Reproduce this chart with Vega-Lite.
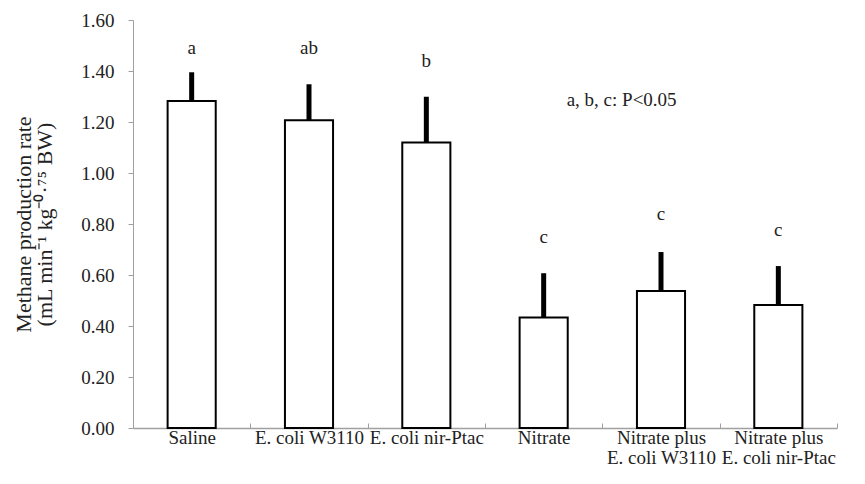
{
  "$schema": "https://vega.github.io/schema/vega-lite/v6.json",
  "width": 704,
  "height": 408,
  "autosize": {"type": "none"},
  "padding": {"left": 133, "top": 20, "right": 28, "bottom": 56},
  "background": "white",
  "config": {
    "view": {"stroke": null},
    "font": "Liberation Serif",
    "axis": {
      "labelFont": "Liberation Serif",
      "titleFont": "Liberation Serif",
      "labelColor": "#222222",
      "titleColor": "#222222",
      "domainColor": "#a0a0a0",
      "tickColor": "#a0a0a0",
      "grid": false
    }
  },
  "data": {
    "values": [
      {"group": "Saline", "mean": 1.282, "upper": 1.395, "letter": "a", "letter_y": 1.467},
      {"group": "E. coli W3110", "mean": 1.207, "upper": 1.348, "letter": "ab", "letter_y": 1.467},
      {"group": "E. coli nir-Ptac", "mean": 1.12, "upper": 1.299, "letter": "b", "letter_y": 1.417},
      {"group": "Nitrate", "mean": 0.433, "upper": 0.607, "letter": "c", "letter_y": 0.725},
      {"group": "Nitrate plus\nE. coli W3110", "mean": 0.537, "upper": 0.69, "letter": "c", "letter_y": 0.816},
      {"group": "Nitrate plus\nE. coli nir-Ptac", "mean": 0.482, "upper": 0.635, "letter": "c", "letter_y": 0.753}
    ]
  },
  "encoding": {
    "x": {
      "field": "group",
      "type": "nominal",
      "sort": null,
      "scale": {"paddingInner": 0, "paddingOuter": 0},
      "axis": {
        "title": null,
        "labelAngle": 0,
        "labelFontSize": 19,
        "labelPadding": 5,
        "labelLineHeight": 20,
        "labelExpr": "split(datum.label, '\\n')",
        "tickBand": "extent",
        "tickSize": -5,
        "domainWidth": 1.5
      }
    }
  },
  "layer": [
    {
      "mark": {"type": "bar", "fill": "white", "stroke": "black", "strokeWidth": 2, "width": {"band": 0.41}},
      "encoding": {
        "y": {
          "field": "mean",
          "type": "quantitative",
          "scale": {"domain": [0, 1.6], "nice": false},
          "axis": {
            "values": [0, 0.2, 0.4, 0.6, 0.8, 1.0, 1.2, 1.4, 1.6],
            "format": ".2f",
            "labelFontSize": 19,
            "labelPadding": 14,
            "tickSize": 5,
            "title": ["Methane production rate", "(mL min⁻¹ kg⁻⁰·⁷⁵ BW)"],
            "titleFontSize": 22,
            "titleFontWeight": "normal",
            "titleLineHeight": 21,
            "titlePadding": 24
          }
        }
      }
    },
    {
      "mark": {"type": "rule", "color": "black", "strokeWidth": 5},
      "encoding": {
        "y": {"field": "mean", "type": "quantitative"},
        "y2": {"field": "upper"}
      }
    },
    {
      "mark": {"type": "text", "fontSize": 19, "baseline": "alphabetic", "color": "#222222"},
      "encoding": {
        "y": {"field": "letter_y", "type": "quantitative"},
        "text": {"field": "letter"}
      }
    },
    {
      "data": {"values": [{"group": "Nitrate", "label": "a, b, c: P<0.05", "y": 1.263}]},
      "mark": {"type": "text", "fontSize": 19, "align": "left", "baseline": "alphabetic", "dx": 23, "color": "#222222"},
      "encoding": {
        "y": {"field": "y", "type": "quantitative"},
        "text": {"field": "label"}
      }
    }
  ]
}
